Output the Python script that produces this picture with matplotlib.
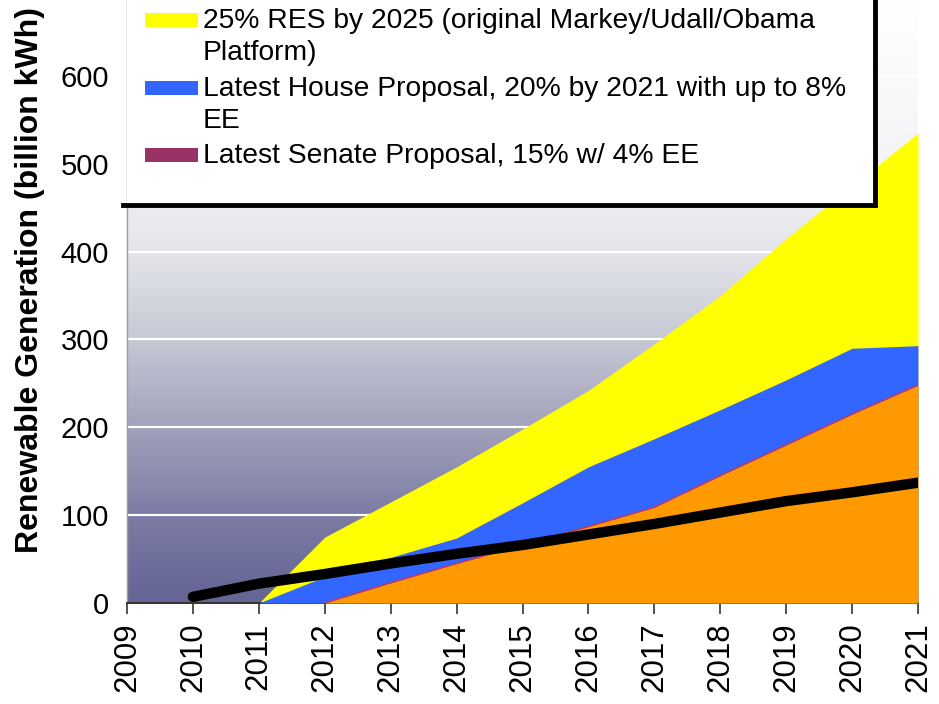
"""Renewable generation under the RES proposals."""
import numpy as np
import matplotlib
matplotlib.use("Agg")
import matplotlib.pyplot as plt
from matplotlib.colors import LinearSegmentedColormap
from matplotlib.patches import Rectangle
from matplotlib.lines import Line2D

plt.rcParams['font.family'] = ['Liberation Sans', 'DejaVu Sans']

W, H = 939, 704

# data (billion kWh)
tick_years = list(range(2009, 2022))
res25_years = [2011, 2012, 2013, 2014, 2015, 2016, 2017, 2018, 2019, 2020, 2021]
res25_vals = [0, 75, 115, 155, 198, 242, 295, 350, 415, 475, 535]
house_years = [2011, 2012, 2013, 2014, 2015, 2016, 2017, 2018, 2019, 2020, 2021]
house_vals = [0, 30, 52, 74, 114, 155, 187, 220, 254, 290, 293]
senate_years = [2012, 2013, 2014, 2015, 2016, 2017, 2018, 2019, 2020, 2021]
senate_vals = [0, 23, 45, 66, 87, 109, 145, 180, 215, 248]
base_years = [2010, 2011, 2012, 2013, 2014, 2015, 2016, 2017, 2018, 2019, 2020, 2021]
base_vals = [7, 22, 33, 45, 56, 66, 78, 90, 103, 116, 126, 137]

legend_labels = ["25% RES by 2025 (original Markey/Udall/Obama\nPlatform)",
                 "Latest House Proposal, 20% by 2021 with up to 8%\nEE",
                 "Latest Senate Proposal, 15% w/ 4% EE"]
legend_colors = ["#ffff00", "#3366ff", "#993366"]

YTOP = 686.5


def px(x, y):
    """Pixel position -> figure fraction."""
    return x / W, 1 - y / H


fig = plt.figure(figsize=(W / 100, H / 100), dpi=100)
ax = fig.add_axes([127 / W, 1 - 603 / H, (918 - 127) / W, 603 / H])

# background gradient (bottom -> top)
bg = LinearSegmentedColormap.from_list("bg", [
    (0.0, (100/255, 100/255, 150/255)),
    (100/YTOP, (124/255, 124/255, 164/255)),
    (200/YTOP, (162/255, 162/255, 188/255)),
    (300/YTOP, (198/255, 200/255, 213/255)),
    (400/YTOP, (228/255, 229/255, 234/255)),
    (500/YTOP, (244/255, 244/255, 247/255)),
    (1.0, (1, 1, 1))])
grad = np.linspace(0, 1, 400).reshape(-1, 1)
ax.imshow(grad, cmap=bg, aspect='auto', origin='lower',
          extent=[2009, 2021, 0, YTOP], zorder=0)

for v in range(100, 700, 100):
    ax.axhline(v, color='white', lw=1.6, zorder=1)

ax.fill_between(res25_years, res25_vals, 0, color='#ffff00', lw=0, zorder=2)
ax.fill_between(house_years, house_vals, 0, color='#3366ff', lw=0, zorder=3)
ax.fill_between(senate_years, senate_vals, 0, color='#ff9900', lw=0, zorder=4)
ax.plot(senate_years, senate_vals, color='#cc3355', lw=1, zorder=5)
ax.plot(base_years, base_vals, color='black', lw=7.5,
        solid_capstyle='round', zorder=6)

ax.set_xlim(2009, 2021)
ax.set_ylim(0, YTOP)
ax.set_xticks(tick_years)
ax.set_xticklabels([str(y) for y in tick_years], rotation=90, fontsize=22.5)
ax.set_yticks(range(0, 700, 100))
ax.tick_params(axis='x', length=8, width=1.2, color='#333333', pad=6)
ax.tick_params(axis='y', length=0, pad=13, labelsize=21)
for s in ['top', 'right']:
    ax.spines[s].set_visible(False)
ax.spines['bottom'].set_color('#333333')
ax.spines['bottom'].set_linewidth(1.4)
ax.spines['left'].set_color('#999999')
ax.spines['left'].set_linewidth(1)
ax.spines['left'].set_zorder(1.5)
ax.set_ylabel("Renewable Generation (billion kWh)", fontsize=23,
              fontweight='bold')
ax.yaxis.set_label_coords(-0.104, 1 - 280 / 603)

# legend box
x0, y0 = px(127, 0)
x1, y1 = px(875, 205)
ax.add_patch(Rectangle((x0, y1), x1 - x0, y0 - y1, transform=fig.transFigure,
                       facecolor='white', edgecolor='none', zorder=10,
                       clip_on=False))
xl, _ = px(123, 0)
ax.add_line(Line2D([xl, x1, x1], [y1, y1, y0], transform=fig.transFigure,
                   color='black', lw=3.5, zorder=11, clip_on=False,
                   solid_joinstyle='miter'))

rows = [20, 88, 155]
for lab, col, yc in zip(legend_labels, legend_colors, rows):
    hx, hy = px(145, yc + 7)
    hw = 53 / W
    hh = 14 / H
    ax.add_patch(Rectangle((hx, hy), hw, hh, transform=fig.transFigure,
                           facecolor=col, edgecolor='none', zorder=12,
                           clip_on=False))
    tx, ty = px(203, yc - 12)
    ax.text(tx, ty, lab, transform=fig.transFigure, fontsize=20.3,
            va='top', ha='left', linespacing=1.3, zorder=12)

fig.savefig("out.png", dpi=100)
